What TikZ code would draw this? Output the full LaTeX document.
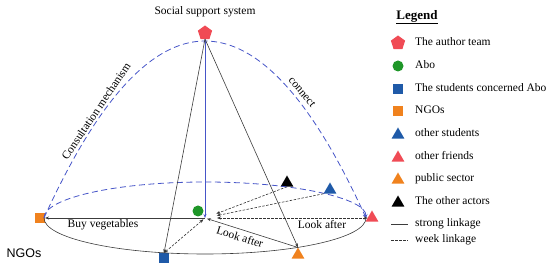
\documentclass[tikz,border=0pt]{standalone}
\usepackage{fontspec}
\setmainfont{Liberation Serif}
\newfontfamily\ngofont{Liberation Sans}
\usetikzlibrary{shapes.geometric,arrows.meta}

\definecolor{cred}{RGB}{240,75,85}
\definecolor{cgreen}{RGB}{30,150,40}
\definecolor{cblue}{RGB}{31,90,168}
\definecolor{corange}{RGB}{240,130,30}
\definecolor{cdash}{RGB}{70,85,200}
\definecolor{cline}{RGB}{60,60,60}

\tikzset{
  sym/.style={draw=none, inner sep=0pt, outer sep=0pt},
  redpent/.style={sym, regular polygon, regular polygon sides=5, minimum size=15pt, fill=cred},
  greendot/.style={sym, circle, minimum size=11pt, fill=cgreen},
  bluesq/.style={sym, rectangle, minimum size=10pt, fill=cblue},
  orangesq/.style={sym, rectangle, minimum size=10pt, fill=corange},
  tri/.style={sym, regular polygon, regular polygon sides=3, minimum size=15pt},
  bluetri/.style={tri, fill=cblue},
  redtri/.style={tri, fill=cred},
  orangetri/.style={tri, fill=corange},
  blacktri/.style={tri, fill=black},
  txt/.style={font=\fontsize{11.5}{13}\selectfont, inner sep=1pt},
  legtxt/.style={txt, anchor=west},
  strong/.style={draw=cline, line width=0.6pt},
  weak/.style={draw=black!80, line width=0.6pt, dash pattern=on 2.5pt off 1.5pt},
  bluedash/.style={draw=cdash, line width=0.8pt, dash pattern=on 6pt off 3.5pt},
  blueline/.style={draw=cdash, line width=0.7pt},
}

\begin{document}
\begin{tikzpicture}[x=1pt, y=1pt, >={Stealth[length=4pt,width=3pt]}]
    \useasboundingbox (0,0) rectangle (550,273);

    % Actors
    \node[redpent] (team) at (205,240) {};
    \node[txt] (teamlbl) at (205,261) {Social support system};
    \node[greendot] (abo) at (198,62) {};
    \node[bluesq] (stu) at (164,15) {};
    \node[orangesq] (ngo) at (40,55) {};
    \node[bluetri] (ostu) at (330,83) {};
    \node[redtri] (friend) at (372,55) {};
    \node[orangetri] (pub) at (298,18) {};
    \node[blacktri] (other) at (287,90) {};
    \node[font=\ngofont\fontsize{12.5}{14}\selectfont] (ngolbl) at (24,20) {NGOs};

    \coordinate (hub) at (205,55);
    \coordinate (lft) at (44,55);
    \coordinate (top) at (205,232);
    \coordinate (rgt) at (366,55);

    % Base ellipse
    \draw[strong] (lft) arc[start angle=180, end angle=360, x radius=161, y radius=36];
    \draw[bluedash, ->] (lft) arc[start angle=180, end angle=0, x radius=161, y radius=36];

    % Outer arc
    \draw[bluedash, ->] (lft) .. controls (97.7,173) and (151.3,232) .. (top)
        .. controls (258.7,232) and (312.3,173) .. (rgt);
    \node[txt, rotate=56] (consult) at (96,162) {Consultation mechanism};
    \node[txt, rotate=-50] (conn) at (302,181) {connect};

    % Strong linkage
    \draw[blueline, <->] (team.south) -- (hub);
    \draw[strong, ->] (team.south) -- (stu.north);
    \draw[strong, ->] (team.south) -- (pub.north);
    \draw[strong, ->] (hub) -- (ngo.east);
    \draw[strong, ->, shorten >=2pt] (pub.north) -- (hub);
    \node[txt] (buy) at (103,48) {Buy vegetables};
    \node[txt, rotate=-17] (look1) at (240,36) {Look after};

    % Weak linkage
    \draw[weak, <->, shorten >=2pt] (stu.north) -- (hub);
    \draw[weak, ->, shorten >=12pt] (other.south) -- (hub);
    \draw[weak, ->, shorten >=12pt] (ostu.corner 2) -- (hub);
    \draw[weak, <->, shorten <=12pt] (hub) -- (friend.west);
    \node[txt] (look2) at (322,48) {Look after};

    % Legend
    \node[font=\fontsize{13}{15}\selectfont\bfseries] (legend) at (417,256) {\underline{Legend}};
    \node[redpent] (k1) at (398,230) {};
    \node[legtxt] at (414,231) {The author team};
    \node[greendot] (k2) at (398,207) {};
    \node[legtxt] at (414,208) {Abo};
    \node[bluesq] (k3) at (398,184) {};
    \node[legtxt] at (414,185) {The students concerned Abo};
    \node[orangesq] (k4) at (398,162) {};
    \node[legtxt] at (414,163) {NGOs};
    \node[bluetri] (k5) at (398,138) {};
    \node[legtxt] at (414,140) {other students};
    \node[redtri] (k6) at (398,115) {};
    \node[legtxt] at (414,117) {other friends};
    \node[orangetri] (k7) at (398,93) {};
    \node[legtxt] at (414,94) {public sector};
    \node[blacktri] (k8) at (398,70) {};
    \node[legtxt] at (414,72) {The other actors};
    \draw[strong] (391,49) -- (408,49);
    \node[legtxt] at (414,49) {strong linkage};
    \draw[weak] (391,33) -- (408,33);
    \node[legtxt] at (414,33) {week linkage};
\end{tikzpicture}
\end{document}
